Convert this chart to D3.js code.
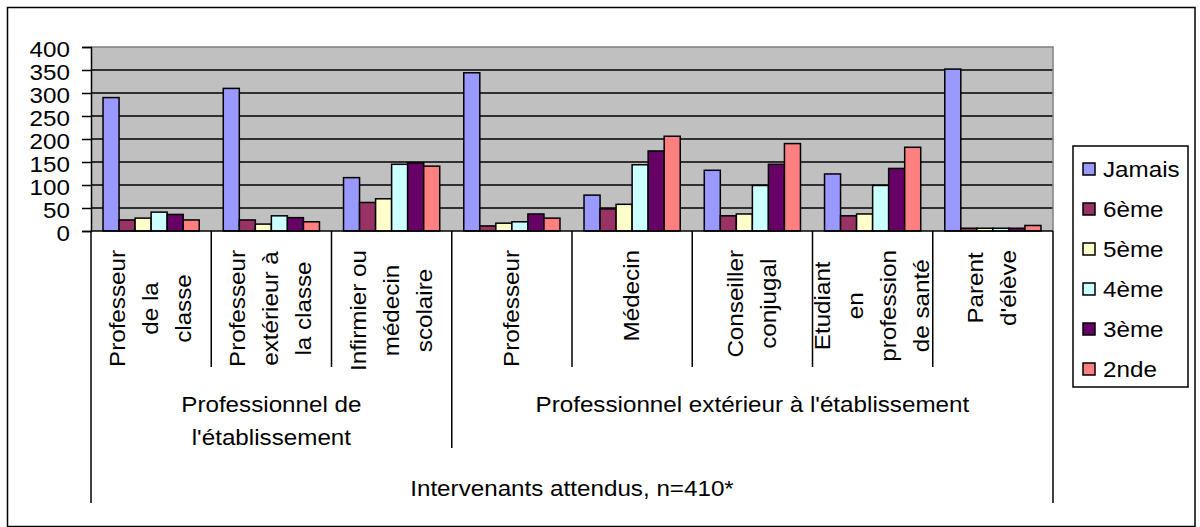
<!DOCTYPE html>
<html>
<head>
<meta charset="utf-8">
<script src="https://cdn.jsdelivr.net/npm/d3@7"></script>
<style>
  html, body { margin: 0; padding: 0; background: #fff; }
  svg { display: block; }
  text { font-family: "Liberation Sans", Arial, sans-serif; font-size: 22px; fill: #000; }
</style>
</head>
<body>
<svg id="chart" width="1200" height="527"></svg>
<script>
// ---------- data ----------
const categoryLabels = [
  ["Professeur", "de la", "classe"],
  ["Professeur", "extérieur à", "la classe"],
  ["Infirmier ou", "médecin", "scolaire"],
  ["Professeur"],
  ["Médecin"],
  ["Conseiller", "conjugal"],
  ["Etudiant", "en", "profession", "de santé"],
  ["Parent", "d'élève"]
];
const groupLabels = [["Professionnel de", "l'établissement"], ["Professionnel extérieur à l'établissement"]];
const groupSpans = [3, 5];
const axisTitle = "Intervenants attendus, n=410*";

const seriesNames = ["Jamais", "6ème", "5ème", "4ème", "3ème", "2nde"];
const jamais   = [290, 310, 116, 344, 78, 132, 124, 352];
const sixieme  = [24, 24, 62, 11, 48, 33, 33, 6];
const cinquieme= [28, 15, 70, 17, 58, 37, 37, 6];
const quatrieme= [41, 33, 145, 20, 144, 99, 99, 6];
const troisieme= [36, 29, 148, 37, 174, 145, 136, 6];
const seconde  = [24, 20, 141, 28, 206, 190, 182, 12];
const seriesValues = [jamais, sixieme, cinquieme, quatrieme, troisieme, seconde];
const seriesColors = ["#9999FF", "#993366", "#FFFFCC", "#CCFFFF", "#660066", "#FF8080"];
const yTicks = [0, 50, 100, 150, 200, 250, 300, 350, 400];

// ---------- layout ----------
const plot = { left: 91, right: 1053, top: 47, bottom: 231 };
const STRETCH = 1.1;

const svg = d3.select("#chart");

function stretch(sel) {
  sel.each(function () {
    const l = this.getComputedTextLength();
    d3.select(this).attr("textLength", l * STRETCH).attr("lengthAdjust", "spacingAndGlyphs");
  });
}

// outer border
svg.append("rect")
  .attr("x", 7.5).attr("y", 7.5).attr("width", 1187.5).attr("height", 519)
  .attr("fill", "#fff").attr("stroke", "#000").attr("stroke-width", 1.5);

const idx = d3.range(categoryLabels.length);
const x0 = d3.scaleBand().domain(idx).range([plot.left, plot.right]).padding(0);
const x1 = d3.scaleBand().domain(d3.range(seriesNames.length))
  .range([0, x0.bandwidth()]).paddingInner(0).paddingOuter(0.75);
const y = d3.scaleLinear().domain([0, 400]).range([plot.bottom, plot.top]);

// plot background
svg.append("rect")
  .attr("x", plot.left).attr("y", plot.top)
  .attr("width", plot.right - plot.left).attr("height", plot.bottom - plot.top)
  .attr("fill", "#C0C0C0");

// gridlines
svg.append("g").selectAll("line").data(yTicks.filter(d => d > 0 && d < 400)).join("line")
  .attr("x1", plot.left).attr("x2", plot.right)
  .attr("y1", d => y(d)).attr("y2", d => y(d))
  .attr("stroke", "#000").attr("stroke-width", 1.5);

// plot border (top, right)
svg.append("path")
  .attr("d", `M${plot.left},${plot.top}H${plot.right}V${plot.bottom}`)
  .attr("fill", "none").attr("stroke", "#808080").attr("stroke-width", 1.5);

// bars
const barData = [];
seriesValues.forEach((vals, s) => vals.forEach((v, c) => barData.push({ s, c, v })));
svg.append("g").selectAll("rect").data(barData).join("rect")
  .attr("x", d => x0(d.c) + x1(d.s))
  .attr("width", x1.bandwidth())
  .attr("y", d => y(d.v))
  .attr("height", d => y(0) - y(d.v))
  .attr("fill", d => seriesColors[d.s])
  .attr("stroke", "#000").attr("stroke-width", 1.5);

// y axis
const yAxis = d3.axisLeft(y).tickValues(yTicks).tickSize(9).tickPadding(12).tickFormat(d3.format("d"));
const gy = svg.append("g").attr("transform", `translate(${plot.left},0)`).call(yAxis);
gy.select(".domain").attr("stroke", "#000").attr("stroke-width", 1.5);
gy.selectAll(".tick line").attr("stroke", "#000").attr("stroke-width", 1.5);
gy.selectAll(".tick text")
  .attr("dy", null).attr("y", 9)
  .style("font-family", '"Liberation Sans", Arial, sans-serif').style("font-size", "22px").attr("fill", "#000")
  .call(stretch);

// category axis line
svg.append("line")
  .attr("x1", plot.left).attr("x2", plot.right)
  .attr("y1", plot.bottom).attr("y2", plot.bottom)
  .attr("stroke", "#000").attr("stroke-width", 1.5);

// category boundaries
const level1Bottom = 367, level2Bottom = 448, level3Bottom = 503;
const boundaries = idx.map(i => x0(i)).concat([plot.right]);
const groupStarts = [0];
groupSpans.forEach((s, i) => groupStarts.push(groupStarts[i] + s));
svg.append("g").selectAll("line").data(boundaries.map((bx, i) => ({ bx, i }))).join("line")
  .attr("x1", d => d.bx).attr("x2", d => d.bx)
  .attr("y1", plot.bottom)
  .attr("y2", d => (d.i === 0 || d.i === idx.length) ? level3Bottom
               : (groupStarts.includes(d.i) ? level2Bottom : level1Bottom))
  .attr("stroke", "#000").attr("stroke-width", 1.5);

// rotated category labels
const lineStep = 33;
categoryLabels.forEach((lines, i) => {
  const cx = x0(i) + x0.bandwidth() / 2;
  const n = lines.length;
  const texts = lines.map((t, j) => {
    const el = svg.append("text").attr("text-anchor", "middle").text(t);
    el.call(stretch);
    return { el, j };
  });
  const maxLen = d3.max(texts, t => +t.el.attr("textLength"));
  const cy = 250 + maxLen / 2;
  texts.forEach(({ el, j }) => {
    const bx = cx + 7 + (j - (n - 1) / 2) * lineStep;
    el.attr("transform", `translate(${bx},${cy}) rotate(-90)`);
  });
});

// group labels
groupLabels.forEach((lines, g) => {
  const start = x0(groupStarts[g]);
  const end = groupStarts[g + 1] >= idx.length ? plot.right : x0(groupStarts[g + 1]);
  const cx = (start + end) / 2;
  lines.forEach((t, j) => {
    svg.append("text").attr("x", cx).attr("y", 412 + j * 33)
      .attr("text-anchor", "middle").text(t).call(stretch);
  });
});

// level-3 title
svg.append("text").attr("x", (plot.left + plot.right) / 2).attr("y", 496)
  .attr("text-anchor", "middle").text(axisTitle).call(stretch);

// legend
const legend = svg.append("g");
legend.append("rect").attr("x", 1073).attr("y", 146).attr("width", 115).attr("height", 241)
  .attr("fill", "#fff").attr("stroke", "#000").attr("stroke-width", 1.5);
const items = legend.selectAll("g.item").data(seriesNames).join("g").attr("class", "item")
  .attr("transform", (d, i) => `translate(0,${169 + i * 40})`);
items.append("rect").attr("x", 1083).attr("y", -6).attr("width", 12).attr("height", 12)
  .attr("fill", (d, i) => seriesColors[i]).attr("stroke", "#000").attr("stroke-width", 1.5);
items.append("text").attr("x", 1103).attr("y", 8).text(d => d).call(stretch);
</script>
</body>
</html>
